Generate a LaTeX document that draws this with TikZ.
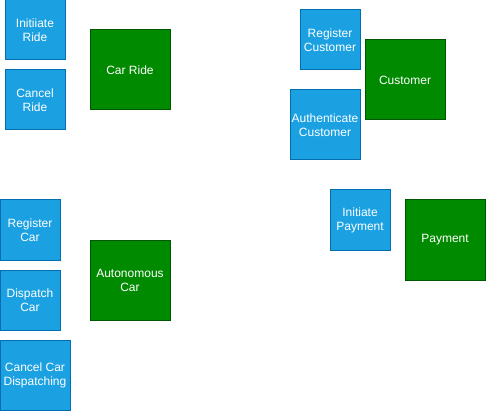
\documentclass[tikz,border=0pt]{standalone}
\usepackage{fontspec}
\setmainfont{Liberation Sans}
\definecolor{taskfill}{HTML}{1BA1E2}
\definecolor{taskline}{HTML}{006EAF}
\definecolor{entfill}{HTML}{008A00}
\definecolor{entline}{HTML}{005700}

\begin{document}
\begin{tikzpicture}[x=1pt,y=-1pt,
	task node/.style={rectangle,draw=taskline,fill=taskfill,text=white,line width=1pt,anchor=north west,outer sep=0pt,inner sep=0pt,align=center,font=\fontsize{12}{14}\selectfont},
	main node/.style={rectangle,draw=entline,fill=entfill,text=white,line width=1pt,anchor=north west,outer sep=0pt,inner sep=0pt,align=center,font=\fontsize{12}{14}\selectfont,minimum width=80pt,minimum height=80pt}]

	\useasboundingbox (0,0) rectangle (486,411);

	% car ride
	\node[task node,minimum width=60pt,minimum height=60pt] (initride) at (5,0) {Initiiate\\Ride};
	\node[task node,minimum width=60pt,minimum height=60pt] (cancelride) at (5,70) {Cancel\\Ride};
	\node[main node] (carride) at (90,30) {Car Ride};

	% customer
	\node[task node,minimum width=60pt,minimum height=60pt] (regcust) at (300,10) {Register\\Customer};
	\node[task node,minimum width=70pt,minimum height=70pt] (authcust) at (290,90) {Authenticate\\Customer};
	\node[main node] (customer) at (365,40) {Customer};

	% payment
	\node[task node,minimum width=60pt,minimum height=60pt] (initpay) at (330,190) {Initiate\\Payment};
	\node[main node] (payment) at (405,200) {Payment};

	% autonomous car
	\node[task node,minimum width=60pt,minimum height=60pt] (regcar) at (0,200) {Register\\Car};
	\node[task node,minimum width=60pt,minimum height=60pt] (dispcar) at (0,270) {Dispatch\\Car};
	\node[task node,minimum width=70pt,minimum height=70pt] (canceldisp) at (0,340) {Cancel Car\\Dispatching};
	\node[main node] (autocar) at (90,240) {Autonomous\\Car};

\end{tikzpicture}
\end{document}
